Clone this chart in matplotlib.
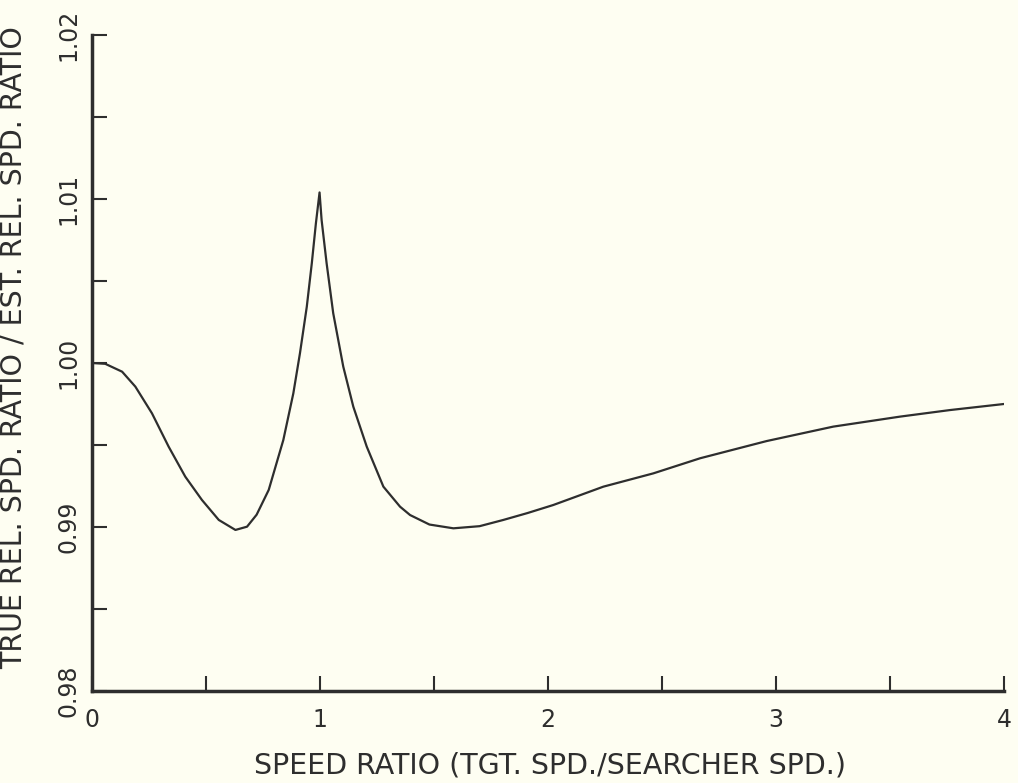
import numpy as np
import matplotlib.pyplot as plt

# values
speed_ratio = [0.0, 0.058, 0.132, 0.19, 0.263, 0.336, 0.409, 0.482, 0.556, 0.629,
               0.68, 0.722, 0.775, 0.839, 0.883, 0.912, 0.942, 0.964, 0.982, 0.998,
               1.007, 1.029, 1.058, 1.102, 1.146, 1.205, 1.278, 1.351, 1.395, 1.48,
               1.585, 1.70, 1.804, 1.91, 2.023, 2.243, 2.462, 2.667, 2.959, 3.251,
               3.544, 3.763, 4.0]
rel_ratio = [1.0000, 0.99995, 0.99947, 0.99856, 0.99693, 0.99490, 0.99307, 0.99165, 0.99043, 0.98982,
             0.99002, 0.99075, 0.99226, 0.99530, 0.99815, 1.00059, 1.00343, 1.00608, 1.00852, 1.01040,
             1.00872, 1.00608, 1.00303, 0.99978, 0.99734, 0.99490, 0.99246, 0.99124, 0.99073, 0.99015,
             0.98992, 0.99005, 0.99043, 0.99085, 0.99134, 0.99246, 0.99327, 0.99419, 0.99524, 0.99612,
             0.99673, 0.99713, 0.99750]

x_major = [0, 1, 2, 3, 4]
x_minor = [0.5, 1.5, 2.5, 3.5]
y_major = [0.98, 0.99, 1.00, 1.01, 1.02]
y_minor = [0.985, 0.995, 1.005, 1.015]

bg = '#fefef2'
ink = '#2e2e2e'

fig = plt.figure(figsize=(10.18, 7.83), dpi=100, facecolor=bg)
ax = fig.add_axes([0.0904, 0.1175, 0.8958, 0.8378], facecolor=bg)

ax.plot(speed_ratio, rel_ratio, color=ink, lw=1.6)

ax.set_xlim(0, 4)
ax.set_ylim(0.98, 1.02)
for s in ['top', 'right']:
    ax.spines[s].set_visible(False)
ax.spines['left'].set_linewidth(2.5)
ax.spines['bottom'].set_linewidth(2.5)
ax.spines['left'].set_color(ink)
ax.spines['bottom'].set_color(ink)

ax.set_xticks(x_major)
ax.set_xticks(x_minor, minor=True)
ax.set_yticks(y_major)
ax.set_yticks(y_minor, minor=True)
ax.set_xticklabels(['0', '1', '2', '3', '4'])
ax.set_yticklabels(['0.98', '0.99', '1.00', '1.01', '1.02'], rotation=90, va='center')
ax.tick_params(axis='both', which='both', direction='in', length=11, width=1.5,
               color=ink, labelsize=17, labelcolor=ink)
ax.tick_params(axis='y', pad=8)
ax.tick_params(axis='x', pad=12)

ax.set_xlabel('SPEED RATIO (TGT. SPD./SEARCHER SPD.)', fontsize=20.5, color=ink)
ax.set_ylabel('TRUE REL. SPD. RATIO / EST. REL. SPD. RATIO', fontsize=20.5, color=ink)
ax.xaxis.set_label_coords(0.502, -0.092)
ax.yaxis.set_label_coords(-0.071, 0.523)

fig.savefig('out.png', dpi=100, facecolor=bg)
